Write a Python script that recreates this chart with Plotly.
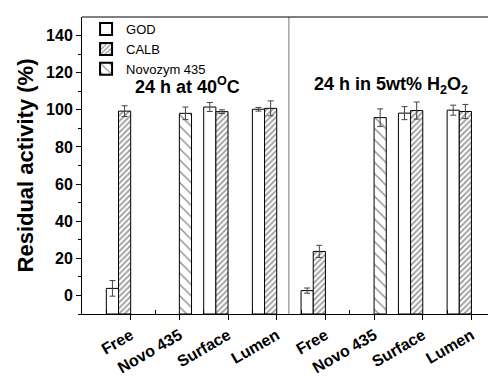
import plotly.graph_objects as go

# Sample groups on the x axis (two conditions, four samples each)
categories = ["Free", "Novo 435", "Surface", "Lumen", "Free", "Novo 435", "Surface", "Lumen"]
positions = [1, 2, 3, 4, 5, 6, 7, 8]

# Residual activity (%) and standard deviations; None = not measured
god = [3.8, None, 101.5, 100.3, 2.6, None, 98.2, 99.8]
god_err = [4.2, None, 2.4, 1.0, 1.4, None, 3.5, 2.7]
calb = [99.3, None, 99.0, 100.8, 23.7, None, 99.6, 99.1]
calb_err = [2.9, None, 1.0, 4.0, 3.3, None, 4.6, 3.8]
novozym = [None, 98.1, None, None, None, 95.8, None, None]
novozym_err = [None, 3.4, None, None, None, 4.7, None, None]

FONT = "Arial, Liberation Sans, sans-serif"
Y_MIN, Y_MAX = -10, 150   # bars rise from the bottom of the axis


def present(values, errors):
    xs, ys, es = [], [], []
    for x, v, e in zip(positions, values, errors):
        if v is not None:
            xs.append(x)
            ys.append(v)
            es.append(e)
    return xs, ys, es


series = [
    ("GOD", god, god_err, -0.5, dict(shape="", fillmode="replace")),
    ("CALB", calb, calb_err, -0.25,
     dict(shape="/", size=4, solidity=0.45, fgcolor="#333333", bgcolor="white")),
    ("Novozym 435", novozym, novozym_err, 0.0,
     dict(shape="\\", size=8, solidity=0.18, fgcolor="#222222", bgcolor="white")),
]

fig = go.Figure()
for name, vals, errs, off, pat in series:
    xs, ys, es = present(vals, errs)
    fig.add_trace(go.Bar(
        name=name, x=xs, y=[v - Y_MIN for v in ys], base=Y_MIN,
        offset=off, width=0.25,
        marker=dict(color="white", line=dict(color="black", width=1), pattern=pat),
        error_y=dict(type="data", array=es, visible=True, color="#444444",
                     thickness=1, width=3),
        customdata=ys, hovertemplate="%{customdata}<extra>" + name + "</extra>",
    ))

fig.add_annotation(x=2.17, y=113, xref="x", yref="y",
                   text="<b>24 h at 40<sup>O</sup>C</b>", showarrow=False,
                   font=dict(family=FONT, size=18, color="black"))
fig.add_annotation(x=6.35, y=113, xref="x", yref="y",
                   text="<b>24 h in 5wt% H<sub>2</sub>O<sub>2</sub></b>", showarrow=False,
                   font=dict(family=FONT, size=18, color="black"))

# divider between the two conditions
fig.add_shape(type="line", x0=4.25, x1=4.25, y0=0, y1=1, xref="x", yref="paper",
              line=dict(color="#777777", width=1))
# top frame line
fig.add_shape(type="line", x0=0, x1=1, y0=1, y1=1, xref="paper", yref="paper",
              line=dict(color="black", width=1))

fig.update_layout(
    width=488, height=376,
    margin=dict(l=82, r=0, t=17, b=53),
    plot_bgcolor="white", paper_bgcolor="white",
    barmode="overlay",
    showlegend=True,
    legend=dict(x=0.01, y=1.01, xanchor="left", yanchor="top",
                bgcolor="rgba(0,0,0,0)", font=dict(family=FONT, size=13, color="black"),
                tracegroupgap=0, itemsizing="constant"),
    font=dict(family=FONT, color="black"),
)

fig.update_xaxes(
    range=[0, 8.34], tickvals=positions, ticktext=["<b>%s</b>" % c for c in categories],
    tickangle=-30, tickfont=dict(family=FONT, size=16, color="black"),
    showline=True, linecolor="black", linewidth=1, showgrid=False, zeroline=False,
    ticks="outside", ticklen=5, tickcolor="black",
    minor=dict(tickvals=[0.5 + i for i in range(9)], ticks="inside", ticklen=4,
               tickcolor="black", showgrid=False),
)
fig.update_yaxes(
    range=[Y_MIN, Y_MAX], tickvals=[0, 20, 40, 60, 80, 100, 120, 140],
    ticktext=["<b>%d</b>" % v for v in [0, 20, 40, 60, 80, 100, 120, 140]],
    tickfont=dict(family=FONT, size=16, color="black"),
    title=dict(text="<b>Residual activity (%)</b>", font=dict(family=FONT, size=22, color="black"),
               standoff=6),
    showline=True, linecolor="black", linewidth=1, showgrid=False, zeroline=False,
    ticks="outside", ticklen=5, tickcolor="black",
    minor=dict(tickvals=[-10, 10, 30, 50, 70, 90, 110, 130], ticks="outside", ticklen=3,
               tickcolor="black", showgrid=False),
)

fig.write_html("out.html")
